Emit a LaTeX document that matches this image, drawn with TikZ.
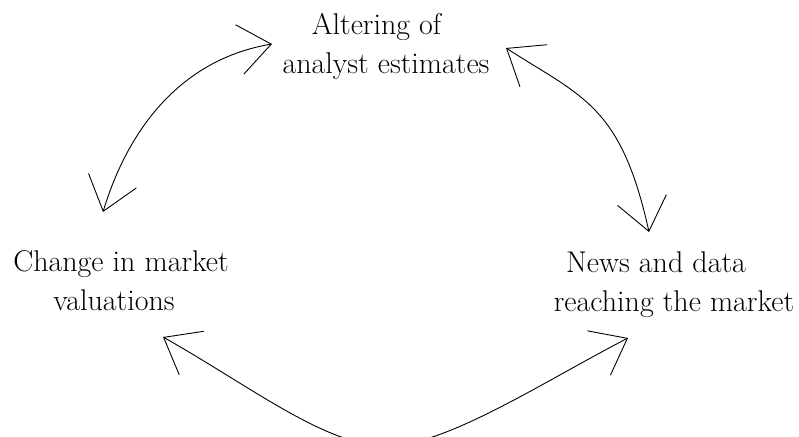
\documentclass[tikz,border=0pt]{standalone}
\usepackage{fontspec}
\usepackage{tikz}
\usetikzlibrary{arrows.meta}
\tikzset{
    labelsty/.style={align=center,inner sep=0pt,font=\fontsize{30}{39}\selectfont},
    cyclesty/.style={{Straight Barb[length=32pt,width=50pt]}-{Straight Barb[length=32pt,width=50pt]},line width=0.9pt},
}

\begin{document}
\begin{tikzpicture}[x=1pt,y=-1pt]
  \useasboundingbox (0,0) rectangle (799,436);
  \clip (0,0) rectangle (799,436);

  \node[labelsty] (alter)  at (386,46)  {Altering of\hspace*{0.63em}\\analyst estimates};
  \node[labelsty] (change) at (121,281) {Change in market\\valuations\hspace*{0.47em}};
  \node[labelsty] (news)   at (674,285) {News and data\hspace*{1.2em}\\reaching the market};

  \coordinate (change-up) at (103,212);
  \coordinate (alter-lt)  at (272,44);
  \coordinate (alter-rt)  at (506,48);
  \coordinate (news-up)   at (649,232);
  \coordinate (change-dn) at (163,337);
  \coordinate (bottom)    at (386,446);
  \coordinate (news-dn)   at (628,338);

  \draw[cyclesty] (change-up) .. controls +(26,-86) and +(-89,15) .. (alter-lt);
  \draw[cyclesty] (alter-rt) .. controls +(76,49) and +(-28,-127) .. (news-up);
  \draw[cyclesty] (change-dn) .. controls +(87,49) and +(-60,0) .. (bottom) .. controls +(60,0) and +(-87,45) .. (news-dn);
\end{tikzpicture}
\end{document}
